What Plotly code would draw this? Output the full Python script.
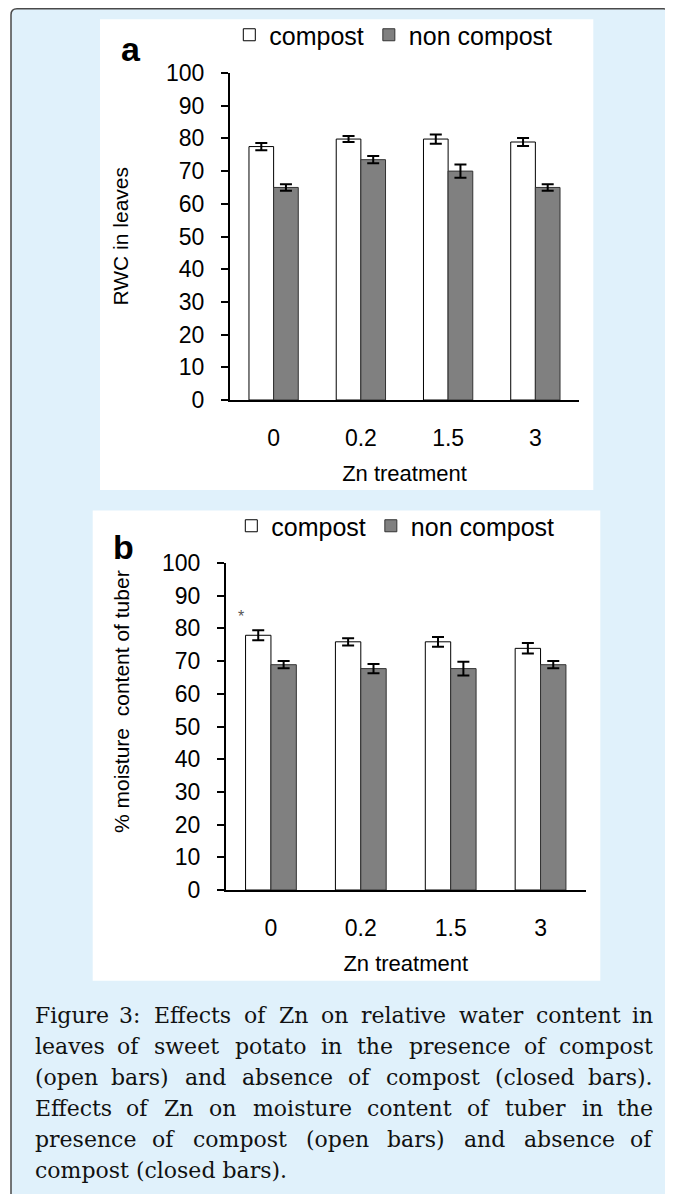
import plotly.graph_objects as go

W, H = 673, 1194

# ---------------- data ----------------
zn_levels = ["0", "0.2", "1.5", "3"]
series_names = ["compost", "non compost"]

rwc_compost = [77.5, 79.8, 79.8, 78.9]
rwc_compost_err = [1.1, 0.9, 1.4, 1.2]
rwc_noncompost = [65.0, 73.5, 70.0, 65.0]
rwc_noncompost_err = [1.0, 1.1, 2.0, 1.0]

moist_compost = [77.9, 75.9, 75.9, 73.9]
moist_compost_err = [1.5, 1.1, 1.5, 1.6]
moist_noncompost = [68.9, 67.7, 67.7, 68.9]
moist_noncompost_err = [1.1, 1.4, 2.1, 1.1]

y_ticks = list(range(0, 101, 10))

caption_lines = [
    "Figure 3: Effects of Zn on relative water content in",
    "leaves of sweet potato in the presence of compost",
    "(open bars) and absence of compost (closed bars).",
    "Effects of Zn on moisture content of tuber in the",
    "presence of compost (open bars) and absence of",
    "compost (closed bars).",
]

# ---------------- helpers ----------------
OFF = 8  # browser body margin compensation

def px(x):
    return (x - OFF) / W

def py(y):
    return 1 - (y - OFF) / H

SANS = "Liberation Sans, Arial, sans-serif"
SERIF = "DejaVu Serif, serif"
LIGHT_BLUE = "#E0F1FB"
GREY = "#808080"

fig = go.Figure()

panels = [
    dict(xa="x", ya="y", legend="legend",
         c=rwc_compost, ce=rwc_compost_err, n=rwc_noncompost, ne=rwc_noncompost_err),
    dict(xa="x2", ya="y2", legend="legend2",
         c=moist_compost, ce=moist_compost_err, n=moist_noncompost, ne=moist_noncompost_err),
]

for p in panels:
    fig.add_trace(go.Bar(
        x=zn_levels, y=p["c"], name=series_names[0],
        xaxis=p["xa"], yaxis=p["ya"], legend=p["legend"],
        marker=dict(color="white", line=dict(color="black", width=1)),
        error_y=dict(type="data", array=p["ce"], color="black", thickness=2, width=6),
    ))
    fig.add_trace(go.Bar(
        x=zn_levels, y=p["n"], name=series_names[1],
        xaxis=p["xa"], yaxis=p["ya"], legend=p["legend"],
        marker=dict(color=GREY, line=dict(color="#333333", width=1)),
        error_y=dict(type="data", array=p["ne"], color="black", thickness=2, width=6),
    ))

# ---------------- shapes (background boxes) ----------------
shapes = []
r = 6
x0b, x1b, y0b, y1b = 11, 669.5, OFF + 0.8, 1215
path = (f"M {px(x0b)},{py(y1b)} L {px(x0b)},{py(y0b + r)} "
        f"Q {px(x0b)},{py(y0b)} {px(x0b + r)},{py(y0b)} "
        f"L {px(x1b - r)},{py(y0b)} Q {px(x1b)},{py(y0b)} {px(x1b)},{py(y0b + r)} "
        f"L {px(x1b)},{py(y1b)} Z")
shapes.append(dict(type="path", xref="paper", yref="paper", path=path,
                   fillcolor=LIGHT_BLUE, line=dict(color="#4a4a4a", width=1.5), layer="below"))
for (l, t, rr, b) in [(100, 19.3, 593.3, 490), (92.7, 510.5, 600.3, 980.7)]:
    shapes.append(dict(type="rect", xref="paper", yref="paper",
                       x0=px(l), x1=px(rr), y0=py(b), y1=py(t),
                       fillcolor="white", line=dict(width=0), layer="below"))

# ---------------- axes ----------------
common_y = dict(range=[0, 100], tickvals=y_ticks, showgrid=False, zeroline=False,
                showline=True, linecolor="black", linewidth=2,
                ticks="outside", ticklen=7, tickwidth=2, tickcolor="black",
                tickfont=dict(family=SANS, size=23, color="black"),
                ticklabelstandoff=12, automargin=False)
common_x = dict(type="category", range=[-0.5, 3.5], showgrid=False, zeroline=False,
                showline=True, linecolor="black", linewidth=2, ticks="",
                tickfont=dict(family=SANS, size=23, color="black"),
                ticklabelstandoff=16, automargin=False,
                title=dict(text="Zn treatment", font=dict(family=SANS, size=22, color="black"),
                           standoff=16))

fig.update_layout(
    xaxis=dict(domain=[px(230), px(579)], anchor="y", **common_x),
    yaxis=dict(domain=[py(400), py(73)], anchor="x", **common_y),
    xaxis2=dict(domain=[px(226), px(585.5)], anchor="y2", **common_x),
    yaxis2=dict(domain=[py(890), py(563)], anchor="x2", **common_y),
)

legend_common = dict(orientation="h", xanchor="left", yanchor="middle",
                     bgcolor="rgba(0,0,0,0)", borderwidth=0,
                     font=dict(family=SANS, size=25, color="black"),
                     traceorder="normal")
fig.update_layout(
    legend=dict(x=px(249.3 - 20), y=py(35), **legend_common),
    legend2=dict(x=px(251.3 - 20), y=py(526), **legend_common),
)

# ---------------- annotations ----------------
ann = []
ann.append(dict(text="<b>a</b>", x=px(130.5), y=py(49), xref="paper", yref="paper",
                showarrow=False, xanchor="center", yanchor="middle",
                font=dict(family=SANS, size=34, color="black")))
ann.append(dict(text="<b>b</b>", x=px(123), y=py(547), xref="paper", yref="paper",
                showarrow=False, xanchor="center", yanchor="middle",
                font=dict(family=SANS, size=34, color="black")))
ann.append(dict(text="RWC in leaves", x=px(120), y=py(236.5), xref="paper", yref="paper",
                showarrow=False, textangle=-90, xanchor="center", yanchor="middle",
                font=dict(family=SANS, size=21, color="black")))
ann.append(dict(text="% moisture  content of tuber", x=px(121), y=py(701), xref="paper", yref="paper",
                showarrow=False, textangle=-90, xanchor="center", yanchor="middle",
                font=dict(family=SANS, size=21, color="black")))
ann.append(dict(text="*", x=zn_levels[0], y=moist_compost[0] + moist_compost_err[0],
                xref="x2", yref="y2", showarrow=False, xanchor="center", yanchor="bottom",
                xshift=-30, yshift=3, font=dict(family=SANS, size=16, color="#555555")))

# caption, justified by distributing words
CW = {' ': 0.318, 'a': 0.596, 'b': 0.640, 'c': 0.560, 'd': 0.640, 'e': 0.592, 'f': 0.370,
      'g': 0.640, 'h': 0.644, 'i': 0.320, 'j': 0.310, 'k': 0.609, 'l': 0.320, 'm': 0.948,
      'n': 0.644, 'o': 0.602, 'p': 0.640, 'q': 0.640, 'r': 0.478, 's': 0.513, 't': 0.402,
      'u': 0.644, 'v': 0.565, 'w': 0.856, 'x': 0.564, 'y': 0.565, 'z': 0.525, '(': 0.390,
      ')': 0.390, '.': 0.318, ':': 0.337, '3': 0.636, 'F': 0.676, 'E': 0.730, 'Z': 0.690}
CAP_SIZE = 22
CAP_LEFT, CAP_RIGHT = 32.6, 655.4
cap_y0, cap_dy = 1015.5, 31.0

def tw(s):
    return sum(CW.get(ch, 0.6) for ch in s) * CAP_SIZE

cap_font = dict(family=SERIF, size=CAP_SIZE, color="#111111")
for i, line in enumerate(caption_lines):
    yc = py(cap_y0 + i * cap_dy)
    if i == len(caption_lines) - 1:
        ann.append(dict(text=line, x=px(CAP_LEFT), y=yc, xref="paper", yref="paper",
                        showarrow=False, xanchor="left", yanchor="middle", font=cap_font))
        continue
    words = line.split(" ")
    widths = [tw(w) for w in words]
    gap = (CAP_RIGHT - CAP_LEFT - sum(widths)) / (len(words) - 1)
    xcur = CAP_LEFT
    for j, (wd, wwidth) in enumerate(zip(words, widths)):
        if j == 0:
            a = dict(x=px(CAP_LEFT), xanchor="left")
        elif j == len(words) - 1:
            a = dict(x=px(CAP_RIGHT), xanchor="right")
        else:
            a = dict(x=px(xcur + wwidth / 2), xanchor="center")
        ann.append(dict(text=wd, y=yc, xref="paper", yref="paper", showarrow=False,
                        yanchor="middle", font=cap_font, **a))
        xcur += wwidth + gap

fig.update_layout(
    width=W, height=H, autosize=False,
    margin=dict(l=0, r=0, t=0, b=0, pad=0, autoexpand=False),
    paper_bgcolor="white", plot_bgcolor="rgba(0,0,0,0)",
    barmode="group", bargap=0.435, bargroupgap=0,
    shapes=shapes, annotations=ann, showlegend=True,
)

fig.write_html("out.html")
